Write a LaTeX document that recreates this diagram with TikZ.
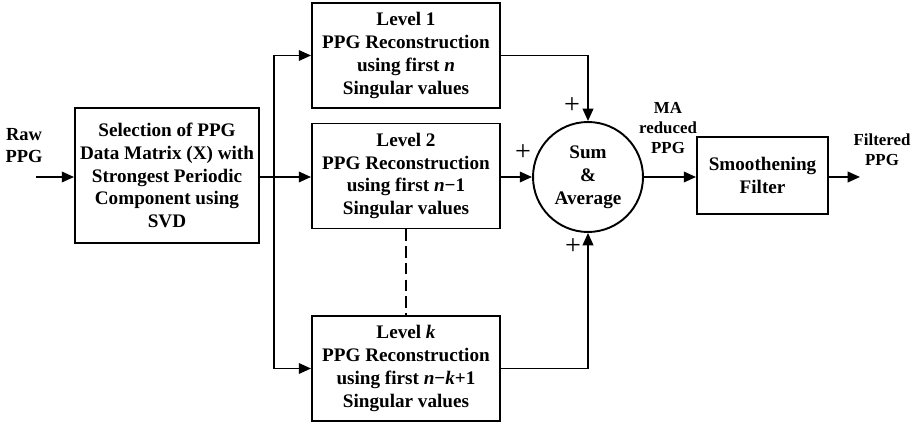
\documentclass[tikz,border=0pt]{standalone}
\usepackage{fontspec}
\setmainfont{Liberation Serif}
\usetikzlibrary{positioning}
\usetikzlibrary{arrows.meta}
\usetikzlibrary{shapes}
\tikzset{
	every node/.style={align=center,font=\fontsize{10.9}{13}\selectfont\bfseries},
	every path/.style={line width=1.1pt},
	>={Triangle[length=7pt,width=6pt]},
	blockbox/.style={draw,rectangle,inner sep=0pt},
	lvlbox/.style={blockbox,minimum width=3.76cm,minimum height=2.1cm},
	sumnode/.style={draw,circle,inner sep=0pt,minimum size=2.2cm},
	smalltxt/.style={font=\fontsize{9.6}{11.2}\selectfont\bfseries},
	plussign/.style={font=\fontsize{16}{16}\selectfont},
}

\begin{document}
\begin{tikzpicture}[x=0.02cm,y=-0.02cm]
	\useasboundingbox (0,0) rectangle (915,425);

	% input.....................
	\node [font=\fontsize{10.5}{12.5}\selectfont\bfseries] (raw) at (24,146) {Raw\\PPG};
	\coordinate (rawin) at (36,177);

	% selection block...................
	\node [blockbox,minimum width=3.68cm,minimum height=2.7cm] (sel) at (167,175.5)
		{Selection of PPG\\Data Matrix (X) with\\Strongest Periodic\\Component using\\SVD};
	\coordinate (bus) at (274,177);

	% reconstruction levels....................
	\node [lvlbox] (lvlone) at (406,55.5)
		{Level 1\\PPG Reconstruction\\using first \textit{n}\\Singular values};
	\node [lvlbox] (lvltwo) at (406,176)
		{Level 2\\PPG Reconstruction\\using first \textit{n}−1\\Singular values};
	\node [lvlbox] (lvlk) at (406,368.5)
		{Level \textit{k}\\PPG Reconstruction\\using first \textit{n}−\textit{k}+1\\Singular values};

	% sum and average....................
	\node [sumnode] (sum) at (588,177) {Sum\\\&\\Average};
	\node [plussign] (pone) at (572,106) {+};
	\node [plussign] (ptwo) at (523,153) {+};
	\node [plussign] (pk) at (573,247) {+};

	% smoothening filter...................
	\node [smalltxt] (ma) at (668,128) {MA\\reduced\\PPG};
	\node [blockbox,minimum width=2.62cm,minimum height=1.54cm] (smooth) at (762.5,175.5)
		{Smoothening\\Filter};
	\node [smalltxt] (filt) at (882,150) {Filtered\\PPG};
	\coordinate (out) at (860,177);

	% connectors.......................
	\draw [->] (rawin) -- (sel.west |- rawin);
	\draw (sel.east |- bus) -- (bus);
	\draw [->] (bus) |- (lvlone.west);
	\draw [->] (bus) -- (lvltwo.west |- bus);
	\draw [->] (bus) |- (lvlk.west);
	\draw [dash pattern=on 6.5pt off 3pt,line width=0.8pt] (lvltwo.south) -- (lvlk.north);
	\draw [->] (lvlone.east) -| (sum.north);
	\draw [->] (lvltwo.east |- sum) -- (sum.west);
	\draw [->] (lvlk.east) -| (sum.south);
	\draw [->] (sum.east) -- (smooth.west |- sum);
	\draw [->] (smooth.east |- out) -- (out);

\end{tikzpicture}
\end{document}
